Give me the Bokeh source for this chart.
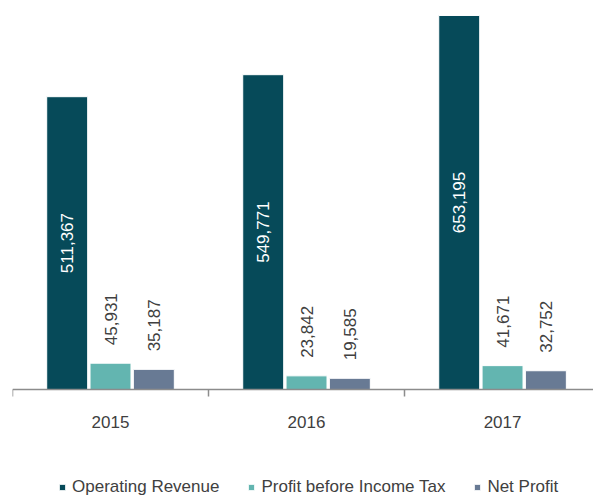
import math
from bokeh.plotting import figure
from bokeh.models import Range1d, FixedTicker, Legend, LegendItem, ColumnDataSource
from bokeh.core.properties import value
from bokeh.embed import file_html
from bokeh.resources import INLINE

years = ["2015", "2016", "2017"]
operating_revenue = [511367, 549771, 653195]
profit_before_tax = [45931, 23842, 41671]
net_profit = [35187, 19585, 32752]

series_names = ["Operating Revenue", "Profit before Income Tax", "Net Profit"]
series_values = [operating_revenue, profit_before_tax, net_profit]
colors = ["#064A59", "#63B5B0", "#687A94"]
offsets = [-0.221, 0.0, 0.221]
bar_w = 0.209

FONT = "Liberation Sans"
FS = "17px"
TXT = "#404040"

# layout (pixels): plot area above the baseline and band below it
W, H = 593, 497
TOP, LEFT = 8, 12
ABOVE_PX, BELOW_PX = 381, 108
UNITS_PER_PX = 1746.4
y_lo, y_hi = -BELOW_PX * UNITS_PER_PX, ABOVE_PX * UNITS_PER_PX

p = figure(width=W, height=H, output_backend="svg", toolbar_location=None,
           x_range=Range1d(0, 2.964), y_range=Range1d(y_lo, y_hi),
           min_border_left=LEFT, min_border_right=0, min_border_top=TOP,
           min_border_bottom=0)
p.outline_line_color = None
p.grid.visible = False
p.yaxis.visible = False

xa = p.xaxis[0]
xa.fixed_location = 0
xa.ticker = FixedTicker(ticks=[], minor_ticks=list(range(len(years) + 1)))
xa.major_tick_out = 0
xa.major_tick_in = 0
xa.major_label_standoff = 0
xa.minor_tick_out = 7
xa.minor_tick_in = 0
xa.minor_tick_line_color = "#8C8C8C"
xa.axis_line_color = "#8C8C8C"
xa.axis_line_width = 1.5
xa.minor_tick_line_width = 1.5

# category labels centred under each group
cat_src = ColumnDataSource(dict(x=[i + 0.5 for i in range(len(years))],
                                y=[0] * len(years), t=years))
p.text(x="x", y="y", text="t", source=cat_src, y_offset=32,
       text_align="center", text_baseline="alphabetic",
       text_font=value(FONT), text_font_size=FS, text_color=TXT)

items = []
for k, (name, vals, col, off) in enumerate(zip(series_names, series_values, colors, offsets)):
    xs = [i + 0.5 + off for i in range(len(years))]
    src = ColumnDataSource(dict(x=xs, top=vals,
                                mid=[v / 2 for v in vals],
                                lab=[f"{v:,}" for v in vals]))
    r = p.vbar(x="x", top="top", width=bar_w, bottom=0, source=src,
               fill_color=col, line_color="white", line_width=1)
    items.append(LegendItem(label=name, renderers=[r]))
    if k == 0:
        p.text(x="x", y="mid", text="lab", source=src, angle=math.pi / 2,
               text_align="center", text_baseline="middle",
               text_font=value(FONT), text_font_size=FS, text_color="white")
    else:
        p.text(x="x", y="top", text="lab", source=src, angle=math.pi / 2,
               text_align="left", text_baseline="middle", y_offset=-18,
               text_font=value(FONT), text_font_size=FS, text_color=TXT)

legend = Legend(items=items, orientation="horizontal", location=(46, 0),
                glyph_width=8, glyph_height=8, label_standoff=6, spacing=28,
                padding=0, margin=0, label_height=20,
                label_text_font=FONT, label_text_font_size=FS,
                label_text_color=TXT, background_fill_alpha=0,
                border_line_color=None)
p.add_layout(legend, "center")

open("out.html", "w").write(file_html(p, INLINE))
